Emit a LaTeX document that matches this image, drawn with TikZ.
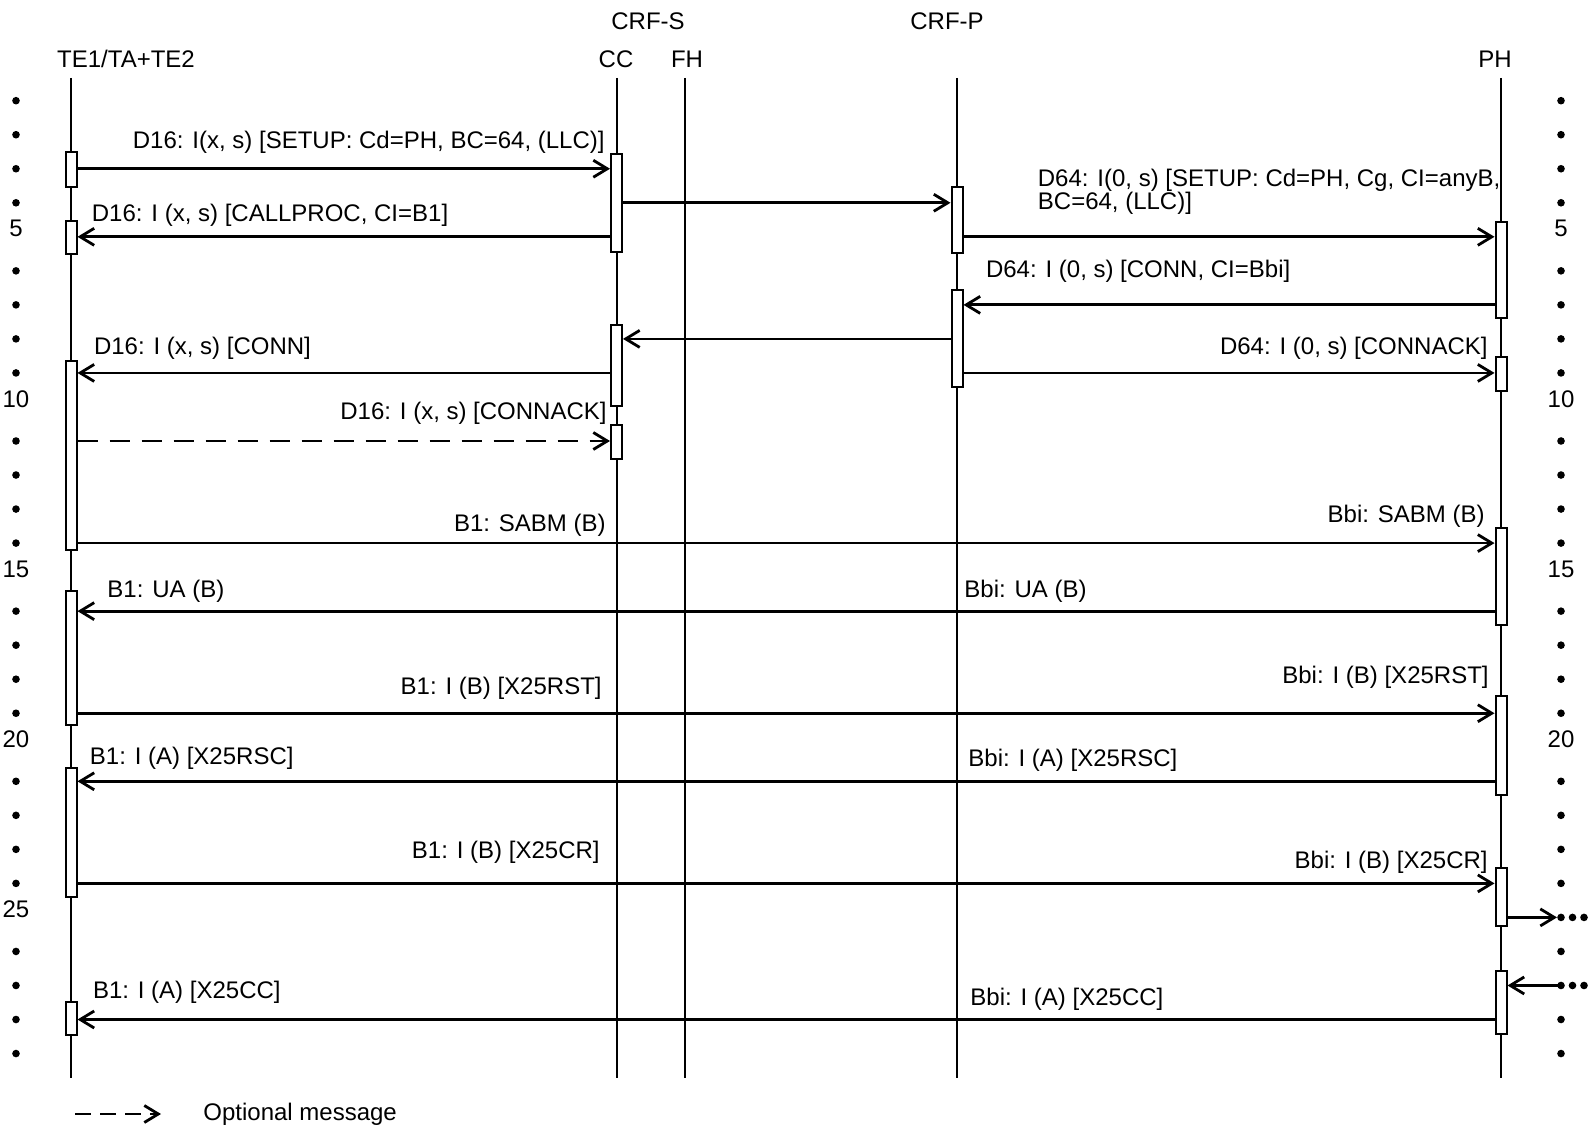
\documentclass[tikz,border=0pt]{standalone}
\usepackage{fontspec}
\setmainfont{Liberation Sans}
\usetikzlibrary{arrows.meta, calc}
\tikzset{
  >={Straight Barb[length=7pt, width=8.5pt]},
  life/.style={line width=1pt},
  act/.style={rectangle, draw, fill=white, line width=1pt, minimum width=5.5pt, inner sep=0pt},
  msg/.style={->, line width=1.4pt},
  msgd/.style={msg, dash pattern=on 10pt off 6pt},
  lbl/.style={inner sep=0pt, font=\fontsize{12}{11.7}\selectfont},
  lbll/.style={lbl, anchor=west, align=left},
  lblr/.style={lbl, anchor=east},
  hdr/.style={lbl},
  rownum/.style={lbl},
}

\begin{document}
\begin{tikzpicture}[x=0.5pt, y=-0.5pt]
  \useasboundingbox (0,0) rectangle (1595,1127);

  % time rows
  \foreach \n in {1,...,29}{ \coordinate (r\n) at (0,{100.7+(\n-1)*34.03}); }
  \coordinate (bot) at (0,1078);

  % headers
  \node[hdr] (crfs) at (648,21) {CRF-S};
  \node[hdr] (crfp) at (947,21) {CRF-P};
  \node[hdr] (te) at (126,59) {TE1/TA+TE2};
  \node[hdr] (cc) at (616,59) {CC};
  \node[hdr] (fh) at (687,59) {FH};
  \node[hdr] (ph) at (1495,59) {PH};

  % lifelines
  \coordinate (te-l) at (71,78);
  \coordinate (cc-l) at (616.5,78);
  \coordinate (fh-l) at (684.5,78);
  \coordinate (cp-l) at (957,78);
  \coordinate (ph-l) at (1501,78);
  \foreach \l in {te-l,cc-l,fh-l,cp-l,ph-l}{ \draw[life] (\l) -- (\l |- bot); }

  % row dots and numbers
  \foreach \n in {1,...,29}{
    \pgfmathtruncatemacro{\m}{mod(\n,5)}
    \ifnum\m=0
      \node[rownum] at ($(r\n)+(16,-8)$) {\n};
      \ifnum\n<25 \node[rownum] at ($(r\n)+(1561,-8)$) {\n};\fi
    \else
      \fill ($(r\n)+(16,0)$) circle (1.9pt);
      \fill ($(r\n)+(1561,0)$) circle (1.9pt);
    \fi
  }
  \foreach \dx in {1561,1572.5,1584}{ \fill ($(r25)+(\dx,0)$) circle (1.9pt); }
  \foreach \dx in {1572.5,1584}{ \fill ($(r27)+(\dx,0)$) circle (1.9pt); }
  \coordinate (more-out) at ($(r25)+(1557,0)$);
  \coordinate (more-in) at ($(r27)+(1558,0)$);

  % activation boxes
  \node[act, minimum height=17.5pt] (te1) at (71,169.2) {};
  \node[act, minimum height=16.65pt] (te2) at (71,237.35) {};
  \node[act, minimum height=94.5pt] (te3) at (71,455.5) {};
  \node[act, minimum height=67.15pt] (te4) at (71,657.85) {};
  \node[act, minimum height=64.2pt] (te5) at (71,832.5) {};
  \node[act, minimum height=16.65pt] (te6) at (71,1018.35) {};
  \node[act, minimum height=48.85pt] (cc1) at (616.5,202.85) {};
  \node[act, minimum height=40.5pt] (cc2) at (616.5,365.5) {};
  \node[act, minimum height=17.15pt] (cc3) at (616.5,442.15) {};
  \node[act, minimum height=32.7pt] (cp1) at (957,220) {};
  \node[act, minimum height=48.65pt] (cp2) at (957,338.65) {};
  \node[act, minimum height=48.3pt] (ph1) at (1501,270) {};
  \node[act, minimum height=17pt] (ph2) at (1501,373.7) {};
  \node[act, minimum height=48.35pt] (ph3) at (1501,576.65) {};
  \node[act, minimum height=49.5pt] (ph4) at (1501,745.5) {};
  \node[act, minimum height=28.85pt] (ph5) at (1501,897.15) {};
  \node[act, minimum height=31.65pt] (ph6) at (1501,1002.35) {};

  % messages
  \draw[msg] (te1.east |- r3) -- (cc1.west |- r3);
  \draw[msg] (cc1.east |- r4) -- (cp1.west |- r4);
  \draw[msg] (cc1.west |- r5) -- (te2.east |- r5);
  \draw[msg] (cp1.east |- r5) -- (ph1.west |- r5);
  \draw[msg] (ph1.west |- r7) -- (cp2.east |- r7);
  \draw[msg] (cp2.west |- r8) -- (cc2.east |- r8);
  \draw[msg] (cc2.west |- r9) -- (te3.east |- r9);
  \draw[msg] (cp2.east |- r9) -- (ph2.west |- r9);
  \draw[msgd] (te3.east |- r11) -- (cc3.west |- r11);
  \draw[msg] (te3.east |- r14) -- (ph3.west |- r14);
  \draw[msg] (ph3.west |- r16) -- (te4.east |- r16);
  \draw[msg] (te4.east |- r19) -- (ph4.west |- r19);
  \draw[msg] (ph4.west |- r21) -- (te5.east |- r21);
  \draw[msg] (te5.east |- r24) -- (ph5.west |- r24);
  \draw[msg] (ph5.east |- r25) -- (more-out);
  \draw[msg] (more-in) -- (ph6.east |- r27);
  \draw[msg] (ph6.west |- r28) -- (te6.east |- r28);

  % message labels
  \node[lblr] (l-setup) at (605,142) {D16: I(x, s) [SETUP: Cd=PH, BC=64, (LLC)]};
  \node[lbll] (l-callproc) at (91.5,215.6) {D16: I (x, s) [CALLPROC, CI=B1]};
  \node[lbll] (l-setup64) at (1037.5,192) {D64: I(0, s) [SETUP: Cd=PH, Cg, CI=anyB,\\BC=64, (LLC)]};
  \node[lbll] (l-conn64) at (985.6,271.6) {D64: I (0, s) [CONN, CI=Bbi]};
  \node[lbll] (l-conn16) at (93.6,348) {D16: I (x, s) [CONN]};
  \node[lblr] (l-connack64) at (1488,348) {D64: I (0, s) [CONNACK]};
  \node[lblr] (l-connack16) at (607,413) {D16: I (x, s) [CONNACK]};
  \node[lblr] (l-sabm-b1) at (606,525) {B1: SABM (B)};
  \node[lblr] (l-sabm-bbi) at (1485,516.7) {Bbi: SABM (B)};
  \node[lbll] (l-ua-b1) at (107,591) {B1: UA (B)};
  \node[lbll] (l-ua-bbi) at (964,591) {Bbi: UA (B)};
  \node[lblr] (l-rst-b1) at (602,688.6) {B1: I (B) [X25RST]};
  \node[lblr] (l-rst-bbi) at (1489,677.4) {Bbi: I (B) [X25RST]};
  \node[lbll] (l-rsc-b1) at (89.5,757.8) {B1: I (A) [X25RSC]};
  \node[lbll] (l-rsc-bbi) at (968,759.8) {Bbi: I (A) [X25RSC]};
  \node[lblr] (l-cr-b1) at (600,852.4) {B1: I (B) [X25CR]};
  \node[lblr] (l-cr-bbi) at (1488,862.6) {Bbi: I (B) [X25CR]};
  \node[lbll] (l-cc-b1) at (92.6,991.8) {B1: I (A) [X25CC]};
  \node[lbll] (l-cc-bbi) at (970,998.9) {Bbi: I (A) [X25CC]};

  % legend
  \coordinate (leg-s) at (75,1114);
  \node[lbll] (legtxt) at (203,1114) {Optional message};
  \draw[msg, dash pattern=on 8pt off 4.5pt] (leg-s) -- ([xshift=-21pt]legtxt.west);
\end{tikzpicture}
\end{document}
